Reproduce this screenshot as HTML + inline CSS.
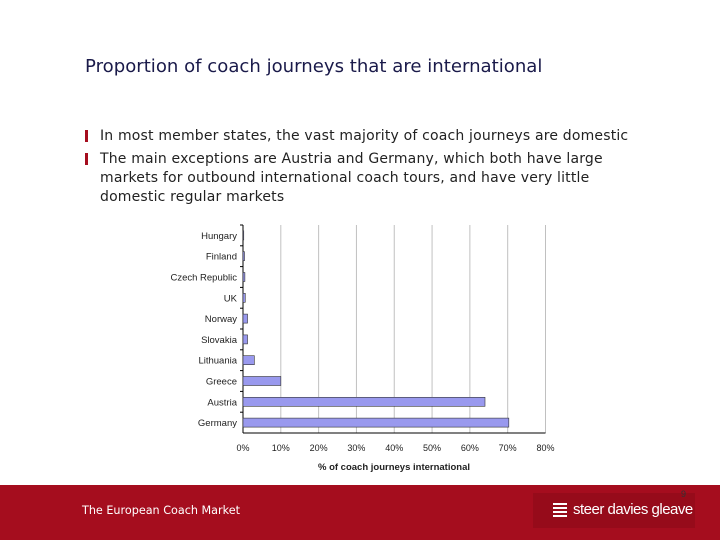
<!DOCTYPE html>
<html><head><meta charset="utf-8"><style>
body{margin:0;width:720px;height:540px;background:#fff;position:relative;overflow:hidden;font-family:"Liberation Sans",sans-serif}
.title{position:absolute;left:85px;top:56px;font-size:18.1px;color:#1a1a4a;font-family:"DejaVu Sans",sans-serif}
.bul{position:absolute;left:100px;font-size:14px;letter-spacing:0.18px;color:#222;line-height:19px;font-family:"DejaVu Sans",sans-serif}
.mk{position:absolute;left:-15px;top:3px;width:3px;height:12px;background:#a50d1e}
.foot{position:absolute;left:0;top:485px;width:720px;height:55px;background:#a50d1e}
</style></head><body>
<div class="title">Proportion of coach journeys that are international</div>
<div class="bul" style="top:127px;white-space:nowrap"><span class="mk"></span>In most member states, the vast majority of coach journeys are domestic</div>
<div class="bul" style="top:150px;width:520px"><span class="mk"></span>The main exceptions are Austria and Germany, which both have large markets for outbound international coach tours, and have very little domestic regular markets</div>
<svg id="chart" width="720" height="540" style="position:absolute;left:0;top:0"></svg>
<div class="foot">
<div style="position:absolute;left:82px;top:19px;color:#fff;font-size:11.2px;font-family:'DejaVu Sans',sans-serif">The European Coach Market</div>
<div style="position:absolute;left:533px;top:8px;width:162px;height:35px;background:#960b1a">
<div style="position:absolute;left:20px;top:10px;width:14px;height:16px;background:repeating-linear-gradient(#fff 0 2px,transparent 2px 4px)"></div>
<div style="position:absolute;left:40px;top:8px;color:#fff;font-size:15px;letter-spacing:-0.5px">steer davies gleave</div>
<div style="position:absolute;left:148px;top:-4px;color:#333;font-size:9px">9</div>
</div></div>
<script>
const categories=["Hungary","Finland","Czech Republic","UK","Norway","Slovakia","Lithuania","Greece","Austria","Germany"];
const values=[0.2,0.4,0.5,0.6,1.2,1.2,3,10,64,70.3];
const ticks=[0,10,20,30,40,50,60,70,80];
const svg=document.getElementById('chart');const NS='http://www.w3.org/2000/svg';
const x0=243,x1=545.5,yT=225,yB=433;
const X=v=>x0+(v/80)*(x1-x0);const band=(yB-yT)/categories.length;
function el(t,a,p){const e=document.createElementNS(NS,t);for(const k in a)e.setAttribute(k,a[k]);(p||svg).appendChild(e);return e;}
ticks.forEach(t=>{if(t>0){const g=el('line',{x1:X(t),x2:X(t),y1:yT,y2:yB,stroke:'#c0c0c0','stroke-width':1});}
const l=el('text',{x:X(t),y:yB+18,'font-size':9,'text-anchor':'middle',fill:'#222','font-family':'Liberation Sans'});l.textContent=t+'%';
});
el('line',{x1:x0,x2:x0,y1:yT,y2:yB,stroke:'#000'});
el('line',{x1:x0,x2:x1,y1:yB,y2:yB,stroke:'#000'});
categories.forEach((c,i)=>{const cy=yT+band*(i+0.5);
el('line',{x1:x0-3,x2:x0,y1:yT+band*i,y2:yT+band*i,stroke:'#000'});
const r=el('rect',{x:x0,y:cy-4.5,width:X(values[i])-x0,height:9,fill:'#9999ee',stroke:'#333','stroke-width':0.6});

const t=el('text',{x:x0-6,y:cy+3.5,'font-size':9.5,'text-anchor':'end',fill:'#222','font-family':'Liberation Sans'});t.textContent=c;
});
const xt=el('text',{x:394,y:470,'font-size':9.5,'font-weight':'bold','text-anchor':'middle',fill:'#222','font-family':'Liberation Sans'});xt.textContent='% of coach journeys international';

</script></body></html>
